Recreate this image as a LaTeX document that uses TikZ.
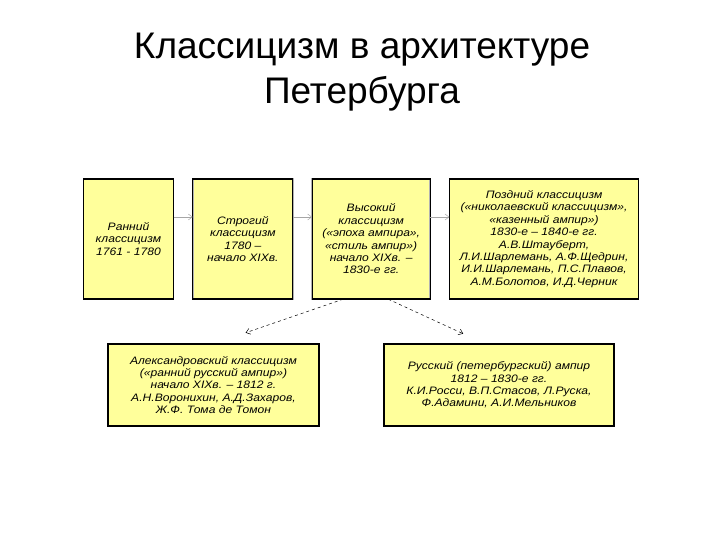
\documentclass[tikz,border=0pt]{standalone}
\usepackage{fontspec}
\setmainfont{Liberation Sans}
\newfontfamily\boxfont[FakeStretch=1.12]{Liberation Sans}
\usetikzlibrary{arrows.meta,positioning,calc}
\definecolor{boxyellow}{RGB}{255,255,155}

\begin{document}
\begin{tikzpicture}[
    x=1pt, y=-1pt,
    node distance=19pt,
    period/.style={draw=gray!60, double=black, double distance=1.1pt, line width=0.35pt,
        fill=boxyellow, align=center, inner sep=2pt, minimum height=120pt,
        font=\boxfont\fontsize{10.8}{12.4}\selectfont\itshape},
    school/.style={period, minimum height=82pt},
    arrow/.style={-{Straight Barb[length=4pt,width=6pt]}, gray!70, line width=0.5pt},
    dasharrow/.style={-{Straight Barb[length=4pt,width=6pt]}, black, line width=0.5pt, dashed}
]
\useasboundingbox (0,0) rectangle (720,540);
\node[font=\fontsize{37}{45}\selectfont, align=center] (title) at (362,72)
    {Классицизм в архитектуре\\Петербурга};

% top row
\node[period, minimum width=90pt] (early) at (128.5,239)
    {Ранний\\классицизм\\1761 - 1780};
\node[period, minimum width=100pt, right=of early] (strict)
    {Строгий\\классицизм\\1780 –\\начало XIXв.};
\node[period, minimum width=118pt, right=of strict] (high)
    {Высокий\\классицизм\\(«эпоха ампира»,\\«стиль ампир»)\\начало XIXв. –\\1830-е гг.};
\node[period, minimum width=189pt, right=of high] (late)
    {Поздний классицизм\\(«николаевский классицизм»,\\«казенный ампир»)\\1830-е – 1840-е гг.\\А.В.Штауберт,\\Л.И.Шарлемань, А.Ф.Щедрин,\\И.И.Шарлемань, П.С.Плавов,\\А.М.Болотов, И.Д.Черник};

% bottom row
\node[school, minimum width=211pt] (alex) at (213.5,385)
    {Александровский классицизм\\(«ранний русский ампир»)\\начало XIXв. – 1812 г.\\А.Н.Воронихин, А.Д.Захаров,\\Ж.Ф. Тома де Томон};
\node[school, minimum width=230pt] (rus) at (499,385)
    {Русский (петербургский) ампир\\1812 – 1830-е гг.\\К.И.Росси, В.П.Стасов, Л.Руска,\\Ф.Адамини, А.И.Мельников};

\draw[arrow] ([yshift=22pt]early.east) -- ([yshift=22pt]strict.west);
\draw[arrow] ([yshift=22pt]strict.east) -- ([yshift=22pt]high.west);
\draw[arrow] ([yshift=22pt]high.east) -- ([yshift=22pt]late.west);
\draw[dasharrow, shorten >=34pt] ([xshift=-28pt]high.south) -- (alex.north);
\draw[dasharrow, shorten >=24pt] ([xshift=17pt]high.south) -- ([xshift=-14pt]rus.north);
\end{tikzpicture}
\end{document}
